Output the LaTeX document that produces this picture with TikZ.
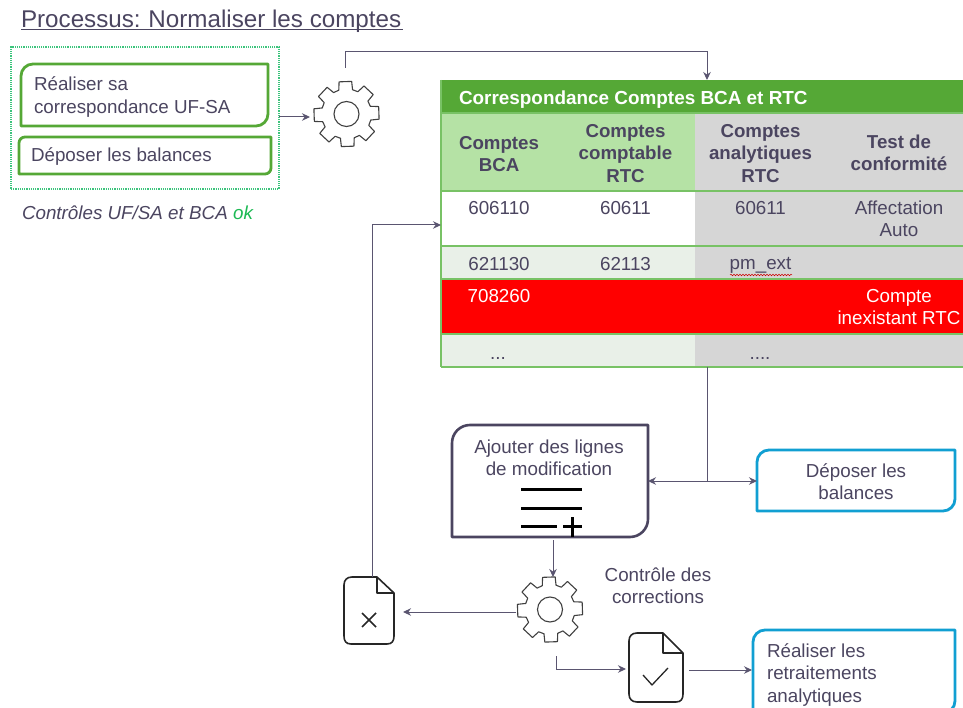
\documentclass[tikz,border=0pt]{standalone}
\usepackage{fontspec}
\setmainfont{Liberation Sans}
\usetikzlibrary{arrows.meta,decorations.pathmorphing}
\definecolor{ink}{HTML}{4B4560}
\definecolor{grn}{HTML}{55A836}
\definecolor{lgrn}{HTML}{B5E2A5}
\definecolor{bord}{HTML}{78C265}
\definecolor{cgray}{HTML}{D6D6D6}
\definecolor{pale}{HTML}{E9F0E8}
\definecolor{dot}{HTML}{3CC47C}
\definecolor{blu}{HTML}{119FD2}
\definecolor{conn}{HTML}{5A5570}
\tikzset{
  x=1pt,y=-1pt,
  every node/.style={inner sep=0pt,outer sep=0pt,text=ink,font=\fontsize{18.8}{22.2}\selectfont},
  cell/.style={align=center,anchor=north},
  head/.style={align=center,font=\fontsize{18.7}{22.5}\selectfont\bfseries},
  link/.style={draw=conn,line width=1pt},
  arr/.style={link,-{Stealth[length=8pt,width=7.5pt]}},
  greenbox/.style={draw=grn,line width=2.8pt,line join=round},
  bluebox/.style={draw=blu,line width=2.8pt,line join=round},
  notebox/.style={draw=ink,line width=2.6pt,line join=round},
  glyph/.style={draw=black,line width=3pt},
  docline/.style={draw=black!85,line width=1.6pt,line join=round},
  gearline/.style={draw=black!75,line width=1.1pt,line join=round},
  rowline/.style={draw=bord,line width=1.5pt},
}
\newcommand{\diagshape}[3]{%
  \draw[#3] (#1.west) [rounded corners=#2pt] -- (#1.north west) -- (#1.north) [sharp corners] -- (#1.north east) -- (#1.east) [rounded corners=#2pt] -- (#1.south east) -- (#1.south) [sharp corners] -- (#1.south west) -- cycle;}
\newcommand{\gearat}[2]{%
  \begin{scope}[shift={(#1)}]
  \draw[gearline,rotate=#2] (-11:33) \foreach \i in {0,...,7} { -- ({\i*45-11}:33) -- ({\i*45+11}:33) -- ({\i*45+16}:25) -- ({\i*45+29}:25) } -- cycle;
  \draw[gearline] (0,0) circle[radius=12.5pt];
  \end{scope}}
\begin{document}
\begin{tikzpicture}
\useasboundingbox (0,0) rectangle (963,708);
\clip (0,0) rectangle (963,708);

% title
\node[anchor=base west,font=\fontsize{24.2}{28}\selectfont] (title) at (21,28) {Processus:\hspace{-1.2pt} Normaliser les comptes};
\draw[draw=ink,line width=1pt] (21,30) -- (403,30);

% top-left group
\node[draw=dot,densely dotted,line width=1.2pt,minimum width=268pt,minimum height=142pt] (group) at (145,118) {};
\node[minimum width=247pt,minimum height=62pt] (b1) at (144.5,95) {};
\diagshape{b1}{12}{greenbox}
\node[anchor=west,align=left] (b1t) at (34,97) {Réaliser sa\\correspondance UF-SA};
\node[minimum width=252pt,minimum height=37pt] (b2) at (145,155.5) {};
\diagshape{b2}{6}{greenbox}
\node[anchor=west] (b2t) at (31,157) {Déposer les balances};
\node[anchor=west,font=\fontsize{18.8}{22}\selectfont\itshape] (ctrl) at (22,213) {Contrôles UF/SA et BCA \textcolor[HTML]{1DB954}{ok}};

% gear 1
\node[minimum size=70pt] (g1) at (346.5,114) {};
\gearat{346.5,114}{2}

% table
\node[minimum width=522pt,minimum height=287pt] (tbl) at (702,223.5) {};
\fill[white] (441,191) rectangle (695,246);
\fill[grn] (441,80) rectangle (963,113);
\fill[lgrn] (441,113) rectangle (695,191);
\fill[cgray] (695,113) rectangle (963,279);
\fill[pale] (441,246) rectangle (695,279);
\fill[red] (441,279) rectangle (963,334);
\fill[pale] (441,334) rectangle (695,367);
\fill[cgray] (695,334) rectangle (963,367);
\draw[rowline] (441,113) -- (963,113);
\draw[rowline] (441,191) -- (963,191);
\draw[rowline] (441,246) -- (963,246);
\draw[rowline] (441,279) -- (963,279);
\draw[rowline] (441,334) -- (963,334);
\draw[rowline] (441,367) -- (963,367);
\draw[rowline] (441,80) -- (441,367);
\node[anchor=west,text=white,font=\fontsize{18.9}{22}\selectfont\bfseries] (tt) at (459,100) {Correspondance Comptes BCA et RTC};
\node[head] (h1) at (499,154) {Comptes\\BCA};
\node[head] (h2) at (625.5,153.5) {Comptes\\comptable\\RTC};
\node[head] (h3) at (760.5,153.5) {Comptes\\analytiques\\RTC};
\node[head] (h4) at (899,153) {Test de\\conformité};
\node[cell] (c11) at (499,201) {606110};
\node[cell] (c12) at (625.5,201) {60611};
\node[cell] (c13) at (760.5,201) {60611};
\node[cell] (c14) at (899,201) {Affectation\\Auto};
\node[cell] (c21) at (499,257) {621130};
\node[cell] (c22) at (625.5,257) {62113};
\node[cell] (c23) at (760.5,257) {pm\_ext};
\draw[red!80!black,line width=0.5pt,decorate,decoration={snake,amplitude=0.8pt,segment length=3pt}] (730,275) -- (792,275);
\node[cell,text=white] (c31) at (499,289) {708260};
\node[cell,text=white] (c34) at (899,289) {Compte\\inexistant RTC};
\node[cell] (c41) at (498,357) {...};
\node[cell] (c43) at (760,357) {....};

% note box
\node[minimum width=196pt,minimum height=112pt] (note) at (550,481) {};
\diagshape{note}{18}{notebox}
\node[align=center,anchor=north] (notet) at (549,439.5) {Ajouter des lignes\\de modification};
\draw[glyph] (521,489) -- (582,489);
\draw[glyph] (521,508) -- (582,508);
\draw[glyph] (521,526) -- (557,526);
\draw[glyph] (563,526) -- (582,526);
\draw[glyph] (572,517) -- (572,537);

% blue boxes
\node[minimum width=198pt,minimum height=61pt] (bb1) at (856,480.5) {};
\diagshape{bb1}{12}{bluebox}
\node[align=center] (bb1t) at (856,481.5) {Déposer les\\balances};
\node[minimum width=202pt,minimum height=83pt] (bb2) at (854,671.5) {};
\diagshape{bb2}{12}{bluebox}
\node[anchor=west,align=left] (bb2t) at (767,675) {Réaliser les\\retraitements\\analytiques};

% gear 2
\node[minimum size=70pt] (g2) at (550,609.5) {};
\gearat{550,609.5}{2}
\node[align=center] (g2t) at (658,585.5) {Contrôle des\\corrections};

% reject document
\node[minimum width=50pt,minimum height=67pt] (dx) at (369,610.5) {};
\draw[docline] (352,577) -- (377,577) -- (394,593) -- (394,636) .. controls (394,641) and (392,644) .. (387,644) -- (351,644) .. controls (346,644) and (344,641) .. (344,636) -- (344,585) .. controls (344,580) and (347,577) .. (352,577) -- cycle;
\draw[docline] (377,577) -- (377,593) -- (394,593);
\draw[docline] (362,613) -- (376,627);
\draw[docline] (376,613) -- (362,627);

% accept document
\node[minimum width=54pt,minimum height=69pt] (dc) at (656,667.5) {};
\draw[docline] (637,633) -- (663,633) -- (683,653) -- (683,694) .. controls (683,699) and (681,702) .. (676,702) -- (637,702) .. controls (632,702) and (629,699) .. (629,694) -- (629,641) .. controls (629,636) and (632,633) .. (637,633) -- cycle;
\draw[docline] (663,633) -- (663,653) -- (683,653);
\draw[docline,line width=1.3pt] (643,675) -- (652,685) -- (668,668);

% connectors
\coordinate (topstart) at (345,68);
\coordinate (toptarget) at (707,80);
\coordinate (toprail) at (345,52);
\draw[arr] (topstart) -- (toprail) -- (toptarget |- toprail) -- (toptarget);
\draw[arr] (group.east |- 0,117) -- (310,117);
\coordinate (junction) at (707,481);
\draw[link] (junction |- tbl.south) -- (junction);
\draw[arr] (junction) -- (note.east |- junction);
\draw[arr] (junction) -- (bb1.west |- junction);
\coordinate (notedown) at (553,540);
\draw[arr] (notedown) -- (553,577);
\coordinate (rejectstart) at (516,612);
\coordinate (rejectend) at (403,612);
\draw[arr] (rejectstart) -- (rejectend);
\coordinate (backstart) at (372,577);
\coordinate (backend) at (441,225);
\draw[arr] (backstart) -- (backstart |- backend) -- (backend);
\coordinate (okstart) at (556,656);
\coordinate (okend) at (626,669);
\draw[arr] (okstart) -- (okstart |- okend) -- (okend);
\coordinate (dcout) at (689,670);
\draw[arr] (dcout) -- (752,670);
\end{tikzpicture}
\end{document}
